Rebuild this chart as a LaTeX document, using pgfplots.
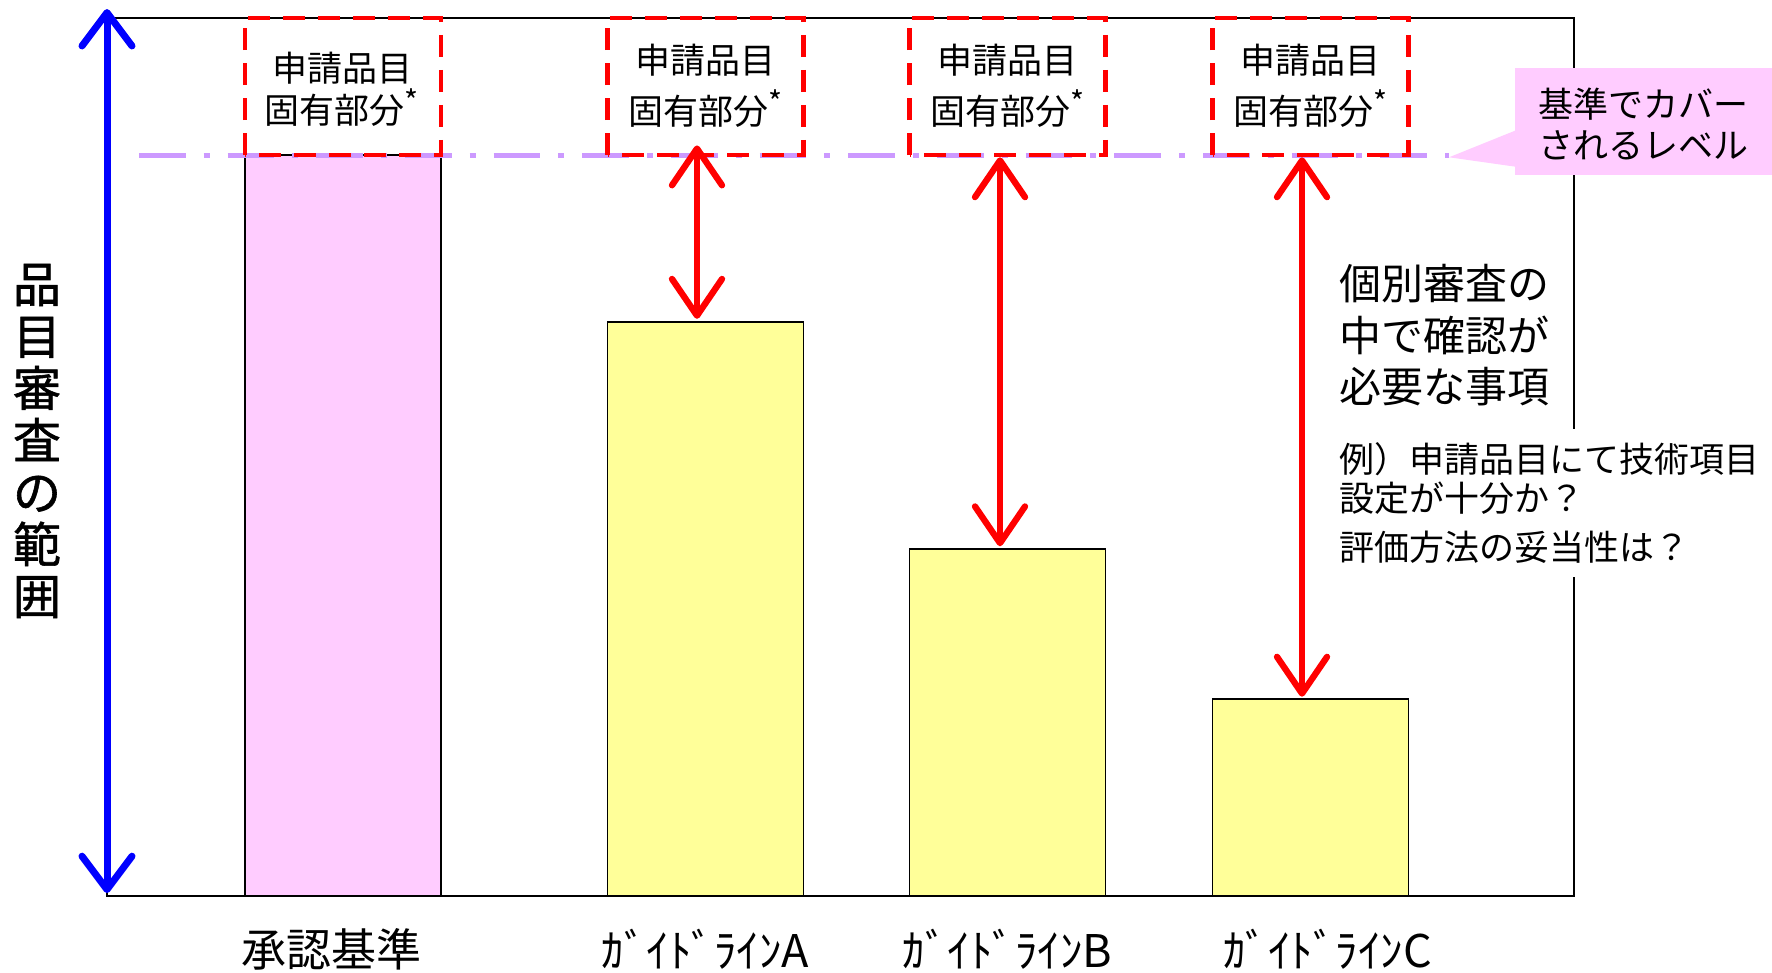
\documentclass[border=0pt]{standalone}
\usepackage{fontspec}
\setmainfont{Noto Sans CJK JP}
\newfontfamily\ylabfont{Noto Sans CJK JP}[FakeBold=1.2]
\usepackage{pgfplots}
\pgfplotsset{compat=1.18}
\usetikzlibrary{arrows.meta}
\definecolor{barpink}{HTML}{FFCCFF}
\definecolor{baryellow}{HTML}{FFFF99}
\definecolor{lav}{HTML}{CC99FF}
\newcommand{\supast}{\raisebox{.3em}{\fontsize{9}{9}\selectfont *}}
\begin{document}
\begin{tikzpicture}
\useasboundingbox (0,0) rectangle (531.6pt,291.6pt);
\begin{axis}[
  at={(32.1pt,22.8pt)}, anchor=south west,
  scale only axis, width=440.1pt, height=263.4pt,
  xmin=0, xmax=14.67, ymin=0, ymax=118.5,
  axis line style={line width=0.5pt},
  xtick={2.247,5.985,9.005,12.205},
  xticklabels={承認基準,ｶﾞｲﾄﾞﾗｲﾝA,ｶﾞｲﾄﾞﾗｲﾝB,ｶﾞｲﾄﾞﾗｲﾝC},
  xticklabel style={font=\fontsize{13.5}{16}\selectfont, anchor=center, yshift=-15.9pt},
  ytick=\empty, major tick length=0pt,
  clip=false,
]
\addplot[ybar, bar width=1.96, bar shift=0pt, fill=barpink, draw=black, line width=0.5pt] coordinates {(2.36,100)};
\addplot[ybar, bar width=1.96, bar shift=0pt, fill=baryellow, draw=black, line width=0.5pt] coordinates {(5.985,77.5) (9.005,46.8) (12.035,26.6)};
% level line
\draw[lav, line width=1.5pt, dash pattern=on 14pt off 5.4pt on 1.8pt off 5.4pt] (axis cs:0.32,100) -- (axis cs:13.42,100);
% red dashed boxes
\draw[red, line width=1.35pt, dash pattern=on 6.5pt off 4pt] (axis cs:1.38,100) rectangle (axis cs:3.34,118.5);
\draw[red, line width=1.35pt, dash pattern=on 6.5pt off 4pt] (axis cs:5.005,100) rectangle (axis cs:6.965,118.5);
\draw[red, line width=1.35pt, dash pattern=on 6.5pt off 4pt] (axis cs:8.025,100) rectangle (axis cs:9.985,118.5);
\draw[red, line width=1.35pt, dash pattern=on 6.5pt off 4pt] (axis cs:11.055,100) rectangle (axis cs:13.015,118.5);
\node[align=center, font=\fontsize{10.5}{12.6}\selectfont] at (axis cs:2.35,108.9) {申請品目\\固有部分\supast};
\node[align=center, font=\fontsize{10.5}{15.3}\selectfont] at (axis cs:5.98,109.4) {申請品目\\固有部分\supast};
\node[align=center, font=\fontsize{10.5}{15.3}\selectfont] at (axis cs:9.0,109.4) {申請品目\\固有部分\supast};
\node[align=center, font=\fontsize{10.5}{15.3}\selectfont] at (axis cs:12.03,109.4) {申請品目\\固有部分\supast};
% red arrows
\draw[red, line width=1.9pt, {Straight Barb[length=11pt,width=15pt,round]}-{Straight Barb[length=11pt,width=15pt,round]}] (axis cs:5.90,101.3) -- (axis cs:5.90,77.9);
\draw[red, line width=1.9pt, {Straight Barb[length=11pt,width=15pt,round]}-{Straight Barb[length=11pt,width=15pt,round]}] (axis cs:8.93,99.7) -- (axis cs:8.93,47.2);
\draw[red, line width=1.9pt, {Straight Barb[length=11pt,width=15pt,round]}-{Straight Barb[length=11pt,width=15pt,round]}] (axis cs:11.95,99.7) -- (axis cs:11.95,26.9);
% blue axis arrow
\draw[blue, line width=2.1pt, {Straight Barb[length=10pt,width=15pt,round]}-{Straight Barb[length=10pt,width=15pt,round]}] (axis cs:0,0.4) -- (axis cs:0,119.7);
% callout
\fill[barpink] (axis cs:14.08,111.7) rectangle (axis cs:16.65,97.3);
\fill[barpink] (axis cs:13.42,99.7) -- (axis cs:14.1,103.4) -- (axis cs:14.1,98.4) -- cycle;
\node[align=center, font=\fontsize{10.5}{12.3}\selectfont] at (axis cs:15.36,104.2) {基準でカバー\\されるレベル};
% texts
\node[anchor=west, inner sep=0pt, align=left, font=\fontsize{12.6}{15.5}\selectfont] at (axis cs:12.32,75.7) {個別審査の\\中で確認が\\必要な事項};
\node[anchor=west, fill=white, inner xsep=0pt, inner ysep=4pt, align=left, font=\fontsize{10.5}{11.7}\selectfont] at (axis cs:12.32,53.0) {例）申請品目にて技術項目\\設定が十分か？\\[3pt]評価方法の妥当性は？};
% y label
\node[align=center, font=\ylabfont\fontsize{14.4}{15.6}\selectfont] at (axis cs:-0.70,61.4) {品\\目\\審\\査\\の\\範\\囲};
\end{axis}
\end{tikzpicture}
\end{document}
